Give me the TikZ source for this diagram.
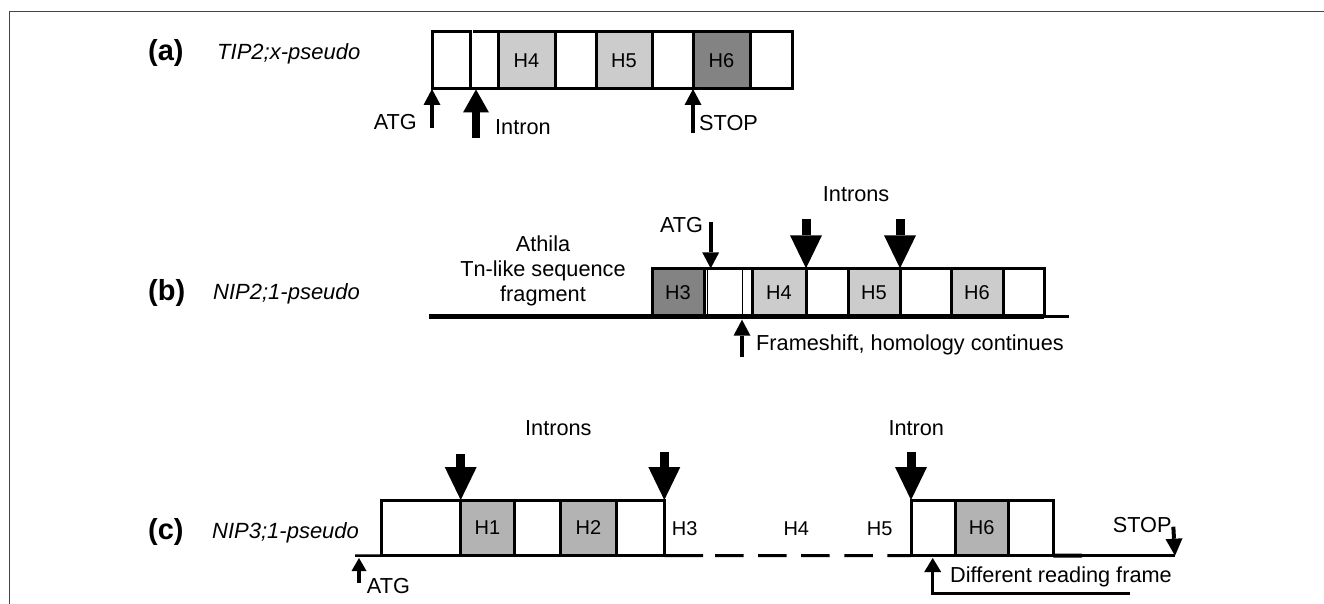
\documentclass[tikz,border=0pt]{standalone}
\usepackage{fontspec}
\setmainfont{Liberation Sans}
\usetikzlibrary{arrows.meta}
\definecolor{hlight}{HTML}{CCCCCC}
\definecolor{hmid}{HTML}{B3B3B3}
\definecolor{hdark}{HTML}{838383}
\definecolor{framegray}{HTML}{454545}
\tikzset{
  seg/.style={rectangle, draw, line width=3pt, inner sep=0pt, outer sep=0pt, anchor=north west, font=\fontsize{20}{24}\selectfont},
  txt/.style={inner sep=0pt, font=\fontsize{21.7}{25}\selectfont},
  tag/.style={inner sep=0pt, font=\fontsize{29}{32}\selectfont\bfseries},
  gene/.style={inner sep=0pt, font=\fontsize{22}{25}\selectfont\itshape},
  edge/.style={line width=3pt},
  track/.style={line width=4.5pt},
  frame/.style={line width=1.4pt, color=framegray},
  smallarr/.style={line width=4pt, -{Triangle[width=17pt, length=16pt, line width=0pt]}},
  midarr/.style={line width=8.5pt, -{Triangle[width=26pt, length=23pt, line width=0pt]}},
  bigarr/.style={line width=9pt, -{Triangle[width=32pt, length=33pt, line width=0pt]}}
}
\begin{document}
\begin{tikzpicture}[x=1pt, y=-1pt]
  \useasboundingbox (0,0) rectangle (1324,604);
  \coordinate (fbl) at (9.5,604);
  \coordinate (ftl) at (9.5,11.7);
  \coordinate (ftr) at (1324,11.7);
  \draw[frame] (fbl) -- (ftl) -- (ftr);

  % (a) TIP2;x-pseudo
  \node[tag, anchor=base west] (taga) at (148,61) {(a)};
  \node[gene, anchor=base west] (genea) at (217,60) {TIP2;x-pseudo};
  \node[seg, minimum width=38pt, minimum height=57pt] (a0) at (432,32) {};
  \node[seg, fill=hlight, minimum width=57pt, minimum height=57pt] (a2) at (498,32) {H4};
  \node[seg, minimum width=41pt, minimum height=57pt] (a3) at (555,32) {};
  \node[seg, fill=hlight, minimum width=56pt, minimum height=57pt] (a4) at (596,32) {H5};
  \node[seg, minimum width=41pt, minimum height=57pt] (a5) at (652,32) {};
  \node[seg, fill=hdark, minimum width=57pt, minimum height=57pt] (a6) at (693,32) {H6};
  \node[seg, minimum width=42pt, minimum height=57pt] (a7) at (750,32) {};
  \draw[edge] ([xshift=3pt]a0.north east) -- (a2.north west);
  \draw[edge] (a0.south east) -- (a2.south west);
  \node[txt, anchor=base east] (atga) at (417,129.5) {ATG};
  \coordinate (atga0) at ([yshift=-39pt]a0.south west);
  \draw[smallarr] (atga0) -- (a0.south west);
  \coordinate (inta0) at (476,138);
  \coordinate (inta1) at (476,89.5);
  \draw[midarr] (inta0) -- (inta1);
  \node[txt, anchor=base west] (intra) at (495,135) {Intron};
  \coordinate (stopa0) at ([yshift=-44pt]a6.south west);
  \draw[smallarr] (stopa0) -- (a6.south west);
  \node[txt, anchor=base west] (stopa) at (699,131) {STOP};

  % (b) NIP2;1-pseudo
  \node[tag, anchor=base west] (tagb) at (148,300.5) {(b)};
  \node[gene, anchor=base west] (geneb) at (213,299.5) {NIP2;1-pseudo};
  \node[txt, align=center] (athila) at (543,271) {Athila\\Tn-like sequence\\fragment};
  \node[seg, fill=hdark, minimum width=52pt, minimum height=48.4pt] (b1) at (652,268.3) {H3};
  \node[seg, minimum width=48pt, minimum height=48.4pt] (b2) at (704,268.3) {};
  \node[seg, fill=hlight, minimum width=54pt, minimum height=48.4pt] (b3) at (752,268.3) {H4};
  \node[seg, minimum width=42pt, minimum height=48.4pt] (b4) at (806,268.3) {};
  \node[seg, fill=hlight, minimum width=52pt, minimum height=48.4pt] (b5) at (848,268.3) {H5};
  \node[seg, minimum width=51pt, minimum height=48.4pt] (b6) at (900,268.3) {};
  \node[seg, fill=hlight, minimum width=52pt, minimum height=48.4pt] (b7) at (951,268.3) {H6};
  \node[seg, minimum width=41pt, minimum height=48.4pt] (b8) at (1003,268.3) {};
  \draw[line width=1pt] ([xshift=3.5pt]b2.north west) -- ([xshift=3.5pt]b2.south west);
  \draw[line width=1pt] ([xshift=-10pt]b2.north east) -- ([xshift=-10pt]b2.south east);
  \coordinate (trb0) at (429,316.7);
  \coordinate (trb1) at (1044,316.7);
  \coordinate (trb2) at (1069,316.7);
  \draw[track] (trb0) -- (trb1);
  \draw[line width=2.5pt] (trb1) -- (trb2);
  \node[txt, anchor=base east] (atgb) at (703.3,232.7) {ATG};
  \coordinate (atgb1) at ([xshift=6.7pt]b2.north west);
  \coordinate (atgb0) at ([yshift=46.6pt]atgb1);
  \draw[smallarr] (atgb0) -- (atgb1);
  \node[txt, anchor=base west] (intsb) at (822.7,201.7) {Introns};
  \coordinate (intb0) at ([yshift=49pt]b3.north east);
  \draw[bigarr] (intb0) -- (b3.north east);
  \coordinate (intb1) at ([yshift=49pt]b5.north east);
  \draw[bigarr] (intb1) -- (b5.north east);
  \coordinate (fsb1) at ([xshift=-10pt, yshift=-3pt]b2.south east);
  \coordinate (fsb0) at ([yshift=-37pt]fsb1);
  \draw[smallarr] (fsb0) -- (fsb1);
  \node[txt, anchor=base west] (fsb) at (756,350) {Frameshift, homology continues};

  % (c) NIP3;1-pseudo
  \node[tag, anchor=base west] (tagc) at (148,539.5) {(c)};
  \node[gene, anchor=base west] (genec) at (212,538) {NIP3;1-pseudo};
  \node[txt, anchor=base west] (intsc) at (525,435.7) {Introns};
  \node[seg, minimum width=79pt, minimum height=55.7pt] (c1) at (381.7,500) {};
  \node[seg, fill=hmid, minimum width=53.3pt, minimum height=55.7pt] (c2) at (460.7,500) {H1};
  \node[seg, minimum width=46.7pt, minimum height=55.7pt] (c3) at (514,500) {};
  \node[seg, fill=hmid, minimum width=55.3pt, minimum height=55.7pt] (c4) at (560.7,500) {H2};
  \node[seg, minimum width=48.3pt, minimum height=55.7pt] (c5) at (616,500) {};
  \node[txt, anchor=base west, font=\fontsize{20}{24}\selectfont] (h3c) at (671.7,535) {H3};
  \node[txt, anchor=base west, font=\fontsize{20}{24}\selectfont] (h4c) at (783.3,535) {H4};
  \node[txt, anchor=base west, font=\fontsize{20}{24}\selectfont] (h5c) at (866.7,535) {H5};
  \node[txt, anchor=base west] (intc) at (888.3,435.5) {Intron};
  \node[seg, minimum width=44pt, minimum height=55.7pt] (d1) at (911,500) {};
  \node[seg, fill=hmid, minimum width=53.3pt, minimum height=55.7pt] (d2) at (955,500) {H6};
  \node[seg, minimum width=45pt, minimum height=55.7pt] (d3) at (1008.3,500) {};
  \coordinate (trc0) at (355,555.7);
  \coordinate (trc1) at (703,555.7);
  \coordinate (trc2) at (715,555.7);
  \coordinate (trc3) at (1082,555.7);
  \coordinate (trc4) at (1175,555.7);
  \draw[line width=2.5pt] (trc0) -- (c1.south west);
  \draw[edge] (c5.south east) -- (trc1);
  \draw[edge, dash pattern=on 28.5pt off 14.6pt] (trc2) -- (d1.south west);
  \draw[line width=4pt] (d3.south east) -- (trc3);
  \draw[line width=2.5pt] (trc3) -- (trc4);
  \coordinate (intc0) at ([yshift=45.7pt]c2.north west);
  \draw[bigarr] (intc0) -- (c2.north west);
  \coordinate (intc1) at ([yshift=47.7pt]c5.north east);
  \draw[bigarr] (intc1) -- (c5.north east);
  \coordinate (intc2) at ([yshift=48.3pt]d1.north west);
  \draw[bigarr] (intc2) -- (d1.north west);
  \coordinate (atgc1) at (359,558);
  \coordinate (atgc0) at (359,583);
  \draw[line width=4.5pt, -{Triangle[width=15pt, length=13pt, line width=0pt]}] (atgc0) -- (atgc1);
  \node[txt, anchor=base west] (atgc) at (366.7,593.3) {ATG};
  \coordinate (stopc0) at (1173.3,526.7);
  \draw[line width=4pt, -{Triangle[width=17pt, length=17pt, line width=0pt]}] (stopc0) -- (trc4);
  \node[txt, anchor=base east] (stopc) at (1171.7,532.3) {STOP};
  \coordinate (drf0) at (1130,593.3);
  \coordinate (drf1) at (932.7,593.3);
  \coordinate (drf2) at (932.7,558);
  \draw[line width=3.3pt, -{Triangle[width=17pt, length=14pt, line width=0pt]}] (drf0) -- (drf1) -- (drf2);
  \node[txt, anchor=base west] (drf) at (950,582.3) {Different reading frame};
\end{tikzpicture}
\end{document}
